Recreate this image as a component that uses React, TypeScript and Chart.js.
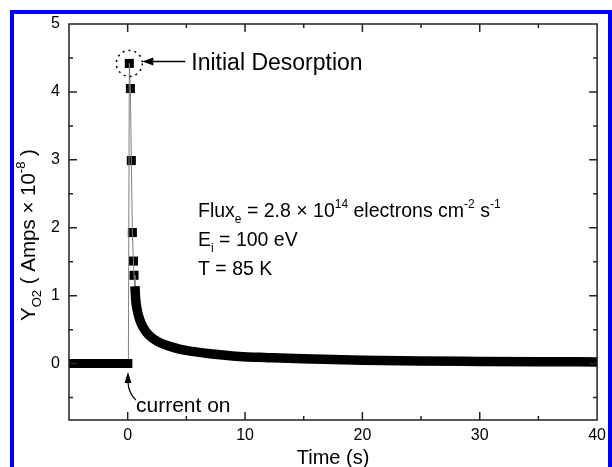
import React, { useEffect, useRef } from 'react';
import { Chart, registerables } from 'chart.js';
Chart.register(...registerables);

const FONT = '"Liberation Sans", Arial, Helvetica, sans-serif';

const xTickValues = [0, 10, 20, 30, 40];
const yTickValues = [0, 1, 2, 3, 4, 5];
const xMinorValues = [-5, 5, 15, 25, 35];
const yMinorValues = [-0.5, 0.5, 1.5, 2.5, 3.5, 4.5];

const baselineT = [-5, -2.5, 0.4];
const baselineY = [0, 0, 0];

const spikeT = [0.14, 0.23, 0.31, 0.4, 0.49, 0.54];
const spikeY = [4.42, 4.05, 2.99, 1.93, 1.51, 1.3];

const traceT = [0.06, 0.14, 0.23, 0.31, 0.4, 0.49, 0.54, 0.62];
const traceY = [0, 4.42, 4.05, 2.99, 1.93, 1.51, 1.3, 1.12];

const decayT = [0.62, 0.68, 0.8, 1.0, 1.3, 1.8, 2.6, 3.5, 4.5, 5.5, 7, 9.5, 12, 15, 20, 25, 30, 35, 40];
const decayY = [1.14, 0.95, 0.8, 0.66, 0.54, 0.42, 0.32, 0.26, 0.21, 0.18, 0.145, 0.105, 0.088, 0.07, 0.05, 0.037, 0.032, 0.028, 0.025];

type Part = [string, 'n' | 'sub' | 'sup'];

function drawRich(ctx: CanvasRenderingContext2D, parts: Part[], x: number, y: number, size: number, draw = true) {
  let cx = x;
  for (const [text, kind] of parts) {
    const s = kind === 'n' ? size : Math.round(size * 0.62);
    const dy = kind === 'sub' ? size * 0.32 : kind === 'sup' ? -size * 0.48 : 0;
    ctx.font = `${s}px ${FONT}`;
    if (draw) ctx.fillText(text, cx, y + dy);
    cx += ctx.measureText(text).width;
  }
  return cx - x;
}

const framePlugin = {
  id: 'frame',
  afterDatasetsDraw(chart: any) {
    const ctx: CanvasRenderingContext2D = chart.ctx;
    const { left, right, top, bottom } = chart.chartArea;
    const xs = chart.scales.x;
    const ys = chart.scales.y;
    ctx.save();
    ctx.strokeStyle = '#222';
    ctx.lineWidth = 1.5;
    ctx.strokeRect(left, top, right - left, bottom - top);
    ctx.beginPath();
    const tick = (vals: number[], len: number) => {
      for (const v of vals) {
        const px = xs.getPixelForValue(v);
        if (px > left + 1 && px < right - 1) {
          ctx.moveTo(px, bottom); ctx.lineTo(px, bottom - len);
          ctx.moveTo(px, top); ctx.lineTo(px, top + len);
        }
      }
    };
    const ytick = (vals: number[], len: number) => {
      for (const v of vals) {
        const py = ys.getPixelForValue(v);
        if (py > top + 1 && py < bottom - 1) {
          ctx.moveTo(left, py); ctx.lineTo(left + len, py);
          ctx.moveTo(right, py); ctx.lineTo(right - len, py);
        }
      }
    };
    tick(xTickValues, 8);
    tick(xMinorValues, 4);
    ytick(yTickValues, 8);
    ytick(yMinorValues, 4);
    ctx.stroke();

    ctx.fillStyle = '#000';
    ctx.strokeStyle = '#000';
    // dashed circle around peak
    const pkx = xs.getPixelForValue(spikeT[0]);
    const pky = ys.getPixelForValue(spikeY[0]);
    ctx.setLineDash([2, 4]);
    ctx.lineWidth = 1.5;
    ctx.beginPath();
    ctx.arc(pkx, pky, 13, 0, Math.PI * 2);
    ctx.stroke();
    ctx.setLineDash([]);

    // arrow to peak
    const ay = pky - 2;
    const tipX = pkx + 13;
    ctx.lineWidth = 1.5;
    ctx.beginPath();
    ctx.moveTo(tipX + 8, ay);
    ctx.lineTo(tipX + 43, ay);
    ctx.stroke();
    ctx.beginPath();
    ctx.moveTo(tipX, ay);
    ctx.lineTo(tipX + 11, ay - 4);
    ctx.lineTo(tipX + 11, ay + 4);
    ctx.closePath();
    ctx.fill();
    ctx.font = `23px ${FONT}`;
    ctx.textBaseline = 'alphabetic';
    ctx.textAlign = 'left';
    ctx.fillText('Initial Desorption', tipX + 49, ay + 8.5);

    // current on arrow
    const cx0 = xs.getPixelForValue(0) + 0.3;
    const cy0 = ys.getPixelForValue(0) + 8.5;
    ctx.beginPath();
    ctx.moveTo(cx0, cy0);
    ctx.lineTo(cx0 - 3.5, cy0 + 11);
    ctx.lineTo(cx0 + 3.5, cy0 + 11);
    ctx.closePath();
    ctx.fill();
    ctx.lineWidth = 1.2;
    ctx.beginPath();
    ctx.moveTo(cx0, cy0 + 10);
    ctx.quadraticCurveTo(cx0 + 0.5, cy0 + 21, cx0 + 8, cy0 + 28);
    ctx.stroke();
    ctx.font = `21px ${FONT}`;
    ctx.fillText('current on', cx0 + 8, cy0 + 40);

    // parameter text
    drawRich(ctx, [['Flux', 'n'], ['e', 'sub'], [' = 2.8 \u00d7 10', 'n'], ['14', 'sup'], [' electrons cm', 'n'], ['-2', 'sup'], [' s', 'n'], ['-1', 'sup']], 198, 217, 19.5);
    drawRich(ctx, [['E', 'n'], ['i', 'sub'], [' = 100 eV', 'n']], 198, 246, 19.5);
    drawRich(ctx, [['T = 85 K', 'n']], 198, 275, 19.5);

    // x title
    ctx.font = `20px ${FONT}`;
    ctx.textAlign = 'center';
    ctx.fillText('Time (s)', (left + right) / 2, 464);

    // y title
    const yParts: Part[] = [['Y', 'n'], ['O2', 'sub'], [' ( Amps \u00d7 10', 'n'], ['-8', 'sup'], [' )', 'n']];
    ctx.textAlign = 'left';
    ctx.save();
    ctx.translate(27, 235);
    ctx.rotate(-Math.PI / 2);
    const w = drawRich(ctx, yParts, 0, 0, 20.5, false);
    drawRich(ctx, yParts, -w / 2, 7.5, 20.5);
    ctx.restore();
    ctx.restore();
  },
};

const pts = (t: number[], y: number[]) => t.map((v, i) => ({ x: v, y: y[i] }));

export default function App() {
  const ref = useRef<HTMLCanvasElement | null>(null);
  useEffect(() => {
    if (!ref.current) return;
    const chart = new Chart(ref.current, {
      type: 'line',
      data: {
        datasets: [
          { data: pts(baselineT, baselineY), borderColor: '#000', borderWidth: 9, pointRadius: 0, borderCapStyle: 'butt', tension: 0 },
          { data: pts(decayT, decayY), borderColor: '#000', borderWidth: 9.5, pointRadius: 0, borderCapStyle: 'butt', borderJoinStyle: 'round', cubicInterpolationMode: 'monotone' },
          { data: pts(traceT, traceY), borderColor: '#808080', borderWidth: 1, pointRadius: 0, tension: 0 },
          { data: pts(spikeT, spikeY), showLine: false, pointStyle: 'rect', pointRadius: 6.4, pointBackgroundColor: '#000', pointBorderColor: '#000', pointBorderWidth: 0 },
        ],
      } as any,
      options: {
        animation: false,
        responsive: false,
        devicePixelRatio: 1,
        events: [],
        layout: { padding: { top: 24, right: 9, left: 0, bottom: 0 } },
        plugins: { legend: { display: false }, tooltip: { enabled: false } },
        scales: {
          x: {
            type: 'linear', min: -5, max: 40,
            afterBuildTicks: (s: any) => { s.ticks = xTickValues.map((v) => ({ value: v })); },
            afterFit: (s: any) => { s.height = 47; },
            grid: { display: false, drawTicks: false }, border: { display: false },
            ticks: { color: '#000', font: { family: FONT, size: 16 }, padding: 6, maxRotation: 0, autoSkip: false },
          },
          y: {
            type: 'linear', min: -0.83, max: 5,
            afterBuildTicks: (s: any) => { s.ticks = yTickValues.map((v) => ({ value: v })); },
            afterFit: (s: any) => { s.width = 69; },
            grid: { display: false, drawTicks: false }, border: { display: false },
            ticks: { color: '#000', font: { family: FONT, size: 16 }, padding: 9, autoSkip: false, callback: (v: any) => String(v) },
          },
        },
      } as any,
      plugins: [framePlugin],
    });
    return () => chart.destroy();
  }, []);
  return (
    <div style={{ position: 'fixed', left: 0, top: 0, width: 612, height: 467, overflow: 'hidden', background: '#fff' }}>
      <canvas ref={ref} width={612} height={467} style={{ display: 'block', width: 612, height: 467 }} />
      <div style={{ position: 'absolute', left: 10, top: 10, width: 602, height: 540, border: '4px solid rgb(0,0,255)', boxSizing: 'border-box', pointerEvents: 'none' }} />
    </div>
  );
}
